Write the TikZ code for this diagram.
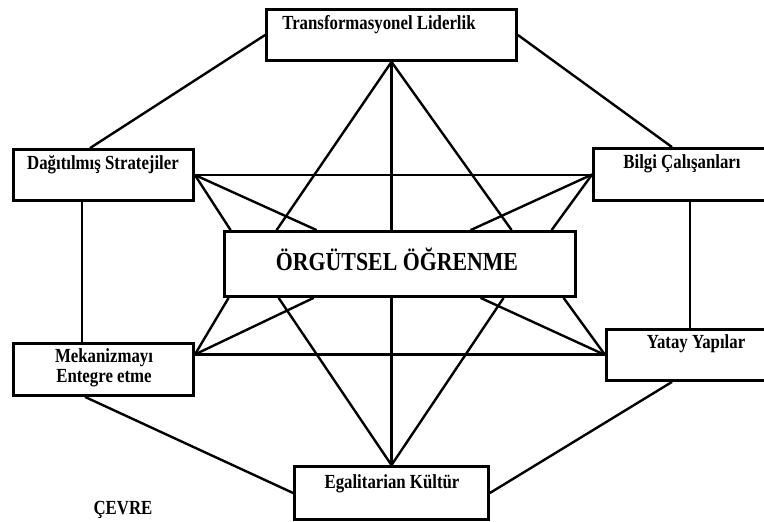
\documentclass[tikz,border=0pt]{standalone}
\usepackage{fontspec}
\setmainfont{Liberation Serif}
\newfontfamily\boxfont[FakeStretch=0.84]{Liberation Serif}
\begin{document}
\begin{tikzpicture}[x=1pt,y=-1pt,
  box/.style={draw=black, fill=white, line width=2.8pt, rectangle, inner sep=0pt},
  link/.style={draw=black, line width=2.4pt},
  txt/.style={font=\boxfont\bfseries\fontsize{20}{20}\selectfont, inner sep=0pt, anchor=base, align=center},
  bigtxt/.style={txt, font=\boxfont\bfseries\fontsize{26}{27}\selectfont},
]
\useasboundingbox (0,0) rectangle (764,522);
\clip (0,0) rectangle (764,522);

% the seven boxes
\node[box, minimum width=250pt, minimum height=51pt] (tl) at (391.5,35) {};
\node[box, minimum width=180pt, minimum height=51pt] (ds) at (103.5,175) {};
\node[box, minimum width=181pt, minimum height=52pt] (bc) at (684,174.5) {};
\node[box, minimum width=180pt, minimum height=52pt] (me) at (103.5,369.5) {};
\node[box, minimum width=168pt, minimum height=51pt] (yy) at (690.5,355) {};
\node[box, minimum width=194pt, minimum height=53pt] (ek) at (391.5,493) {};
\node[box, minimum width=351pt, minimum height=65pt] (oo) at (400,264) {};

% meeting points on the edges of the central box
\coordinate (ot1) at ([xshift=7.5pt]oo.north west);
\coordinate (ot2) at ([xshift=53.5pt]oo.north west);
\coordinate (ot3) at ([xshift=93.5pt]oo.north west);
\coordinate (ot4) at ([xshift=247.5pt]oo.north west);
\coordinate (ot5) at ([xshift=288.5pt]oo.north west);
\coordinate (ot6) at ([xshift=328.5pt]oo.north west);
\coordinate (ob1) at ([xshift=5.5pt]oo.south west);
\coordinate (ob2) at ([xshift=55.5pt]oo.south west);
\coordinate (ob3) at ([xshift=90.5pt]oo.south west);
\coordinate (ob4) at ([xshift=257.5pt]oo.south west);
\coordinate (ob5) at ([xshift=280.5pt]oo.south west);
\coordinate (ob6) at ([xshift=340.5pt]oo.south west);
\coordinate (mep) at ([yshift=15pt]me.east);

% outer ring
\draw[link] (tl.west) -- ([xshift=-13.5pt]ds.north);
\draw[link] (tl.east) -- ([xshift=-12pt]bc.north);
\coordinate (dsb) at ([xshift=-21.5pt]ds.south);
\draw[link] (dsb) -- (dsb |- me.north);
\coordinate (bcb) at ([xshift=6pt]bc.south);
\draw[link] (bcb) -- (bcb |- yy.north);
\draw[link] ([xshift=-18.5pt]me.south) -- (ek.west);
\draw[link] ([xshift=-18.5pt]yy.south) -- (ek.east);

% star around the centre
\draw[link] (tl.south) -- (ot2);
\draw[link] (tl.south) -- (tl.south |- oo.north);
\draw[link] (tl.south) -- (ot5);
\draw[link] (ob2) -- (ek.north);
\draw[link] (oo.south -| ek.north) -- (ek.north);
\draw[link] (ob5) -- (ek.north);
\draw[link] (ds.east) -- (ds.east -| bc.west);
\draw[link] (ds.east) -- (ot1);
\draw[link] (ds.east) -- (ot3);
\draw[link] (bc.west) -- (ot4);
\draw[link] (bc.west) -- (ot6);
\draw[link] (mep) -- (mep -| yy.west);
\draw[link] (mep) -- (ob1);
\draw[link] (mep) -- (ob3);
\draw[link] (yy.west) -- (ob4);
\draw[link] (yy.west) -- (ob6);

% labels
\node[txt] (tlt) at (379,29) {Transformasyonel Liderlik};
\node[txt] (dst) at (103,169) {Dağıtılmış Stratejiler};
\node[txt] (bct) at (682,168) {Bilgi Çalışanları};
\node[txt] (met) at (104,382) {Mekanizmayı\\Entegre etme};
\node[txt] (yyt) at (696,348) {Yatay Yapılar};
\node[txt] (ekt) at (392,488) {Egalitarian Kültür};
\node[bigtxt] (oot) at (397,270) {ÖRGÜTSEL ÖĞRENME};
\node[txt] (cev) at (123,514) {ÇEVRE};
\end{tikzpicture}
\end{document}
